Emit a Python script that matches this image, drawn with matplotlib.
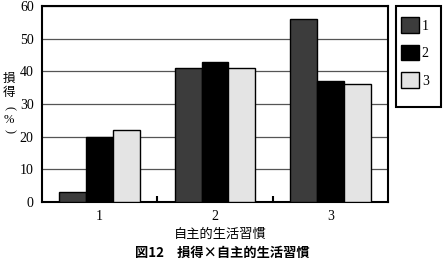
import matplotlib
matplotlib.use("Agg")
import matplotlib.pyplot as plt
from matplotlib.patches import Rectangle
import numpy as np

categories = ["1", "2", "3"]
series_labels = ["1", "2", "3"]
values = {
    "1": [3, 41, 56],
    "2": [20, 43, 37],
    "3": [22, 41, 36],
}
colors = ["#3c3c3c", "#000000", "#e4e4e4"]
yticks = [0, 10, 20, 30, 40, 50, 60]

plt.rcParams['font.family'] = ['Liberation Serif', 'Noto Sans CJK JP']

W, H = 443, 265
fig = plt.figure(figsize=(W/100, H/100), dpi=100)
ax = fig.add_axes([42/W, 1-202/H, 346/W, 196/H])

x = np.arange(len(categories))
w = 0.233
for i, s in enumerate(series_labels):
    ax.bar(x + (i-1)*w, values[s], w, color=colors[i], edgecolor='black',
           linewidth=1.0, label=s, zorder=3)

ax.set_ylim(0, 60)
ax.set_xlim(-0.5, 2.5)
ax.set_yticks(yticks)
ax.set_yticklabels([str(t) for t in yticks], fontsize=10)
ax.yaxis.grid(True, color='#555555', linewidth=0.9, zorder=0)
ax.set_axisbelow(True)
ax.tick_params(axis='y', length=0, pad=6)
ax.set_xticks(x)
ax.set_xticklabels(categories, fontsize=10)
ax.tick_params(axis='x', length=0, pad=6)
ax.set_xticks([0.5, 1.5], minor=True)
ax.tick_params(axis='x', which='minor', direction='in', length=4, width=1.5, color='black')
for sp in ax.spines.values():
    sp.set_linewidth(1.5)

jp = ['Noto Sans CJK JP']
fig.text(220/W, 1-234/H, "自主的生活習慣", family=jp, fontsize=9.5, ha='center', va='center')

# vertical y label
ylab = [("損", 78, 0, jp), ("得", 93, 0, jp), ("(", 108, 270, ['Liberation Serif']),
        ("%", 120, 0, ['Liberation Serif']), (")", 131, 270, ['Liberation Serif'])]
for ch, yy, rot, fam in ylab:
    fig.text(9/W, 1-yy/H, ch, family=fam, fontsize=9, ha='center', va='center', rotation=rot)

fig.text(222/W, 1-253/H, "図12　損得×自主的生活習慣", family=jp,
         fontsize=9.5, fontweight='bold', ha='center', va='center')

fig.patches.append(Rectangle((396/W, 1-107/H), 45/W, 101/H, transform=fig.transFigure,
                             fill=False, edgecolor='black', linewidth=1.5))
leg = fig.legend(loc='upper left', bbox_to_anchor=(401/W, 1-17/H), fontsize=10,
                 handlelength=1.3, handleheight=1.37, labelspacing=0.86,
                 handletextpad=0.2, borderpad=0, borderaxespad=0, frameon=False)

fig.savefig("out.png", dpi=100)
